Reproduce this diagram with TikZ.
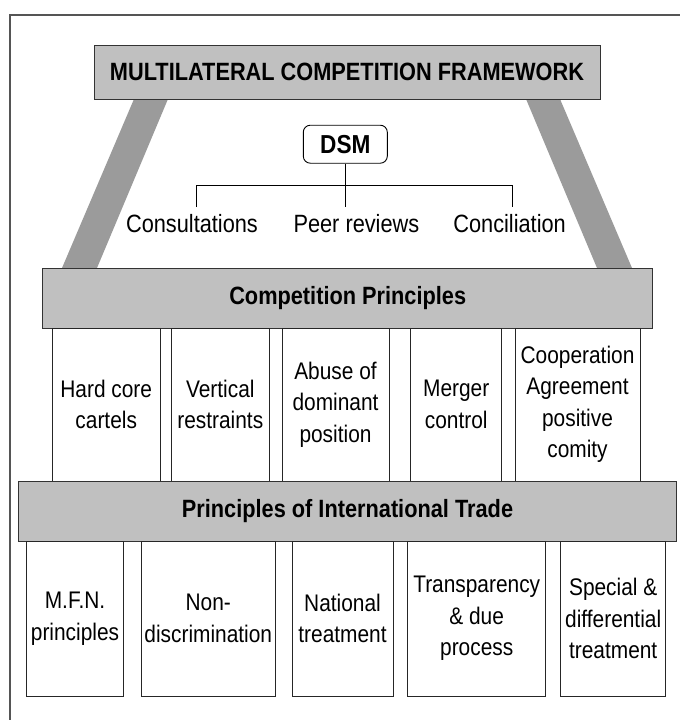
\documentclass[tikz,border=0pt]{standalone}
\usepackage{fontspec}
\setmainfont{Liberation Sans}[FakeStretch=0.87]
\definecolor{boxgray}{RGB}{192,192,192}
\definecolor{pillargray}{RGB}{155,155,155}
\definecolor{framegray}{RGB}{85,85,85}
\tikzstyle{bar}=[draw=black!80, fill=boxgray, line width=1pt, inner sep=0pt, font=\fontsize{25}{30}\selectfont\bfseries]
\tikzstyle{cell}=[draw=black!85, fill=white, line width=0.9pt, inner sep=0pt, align=center, font=\fontsize{24}{31.5}\selectfont]
\tikzstyle{dsmbox}=[draw, rectangle, rounded corners=7pt, line width=0.9pt, inner sep=0pt, minimum width=84pt, minimum height=38pt, font=\fontsize{26}{30}\selectfont\bfseries]
\tikzstyle{means}=[anchor=base, inner sep=0pt, font=\fontsize{25}{30}\selectfont]

\begin{document}
\begin{tikzpicture}[x=1pt, y=-1pt, line width=0.9pt]
  \useasboundingbox (0,0) rectangle (680,720);
  \draw[framegray, line width=1.4pt] (10,720) -- (10,15) -- (680,15);

  \fill[pillargray] (134,99) -- (168,99) -- (97,268) -- (62,268) -- cycle;
  \fill[pillargray] (526,99) -- (560,99) -- (632,268) -- (597,268) -- cycle;

  \node[bar, minimum width=506pt, minimum height=54pt] (MCF) at (347,72) {MULTILATERAL COMPETITION FRAMEWORK};

  \node[dsmbox] (DSM) at (345.3,144.2) {DSM};
  \coordinate (BL) at (196,185);
  \coordinate (BR) at (512.5,185);
  \coordinate (C1) at (196,207);
  \coordinate (C2) at (345.3,207);
  \coordinate (C3) at (512.5,207);
  \draw (C1) -- (BL) -- (BR) -- (C3);
  \draw (DSM) -- (C2);
  \node[means] (cons) at (192,232) {Consultations};
  \node[means] (peer) at (356.4,232) {Peer reviews};
  \node[means] (conc) at (509.6,232) {Conciliation};

  \node[bar, minimum width=610pt, minimum height=60pt] (CP) at (347.7,298) {Competition Principles};

  \node[cell, minimum width=107.7pt, minimum height=153pt] (HC) at (106.2,404.5) {Hard core\\cartels};
  \node[cell, minimum width=97.3pt, minimum height=153pt] (VR) at (220.3,404.5) {Vertical\\restraints};
  \node[cell, minimum width=107pt, minimum height=153pt] (AD) at (335.5,404.5) {Abuse of\\dominant\\position};
  \node[cell, minimum width=91pt, minimum height=153pt] (MC) at (456.2,404.5) {Merger\\control};
  \node[cell, minimum width=125pt, minimum height=153pt] (CA) at (577.5,404.5) {Cooperation\\Agreement\\positive\\comity};

  \node[bar, minimum width=658.4pt, minimum height=60pt] (PIT) at (347.5,511) {Principles of International Trade};

  \node[cell, minimum width=96.6pt, minimum height=155pt] (MFN) at (75,618.5) {M.F.N.\\principles};
  \node[cell, minimum width=133.3pt, minimum height=155pt] (ND) at (208.3,618.5) {Non-\\discrimination};
  \node[cell, minimum width=101pt, minimum height=155pt] (NT) at (342.5,618.5) {National\\treatment};
  \node[cell, minimum width=138pt, minimum height=155pt] (TD) at (476.7,618.5) {Transparency\\\& due\\process};
  \node[cell, minimum width=105pt, minimum height=155pt] (SD) at (613.2,618.5) {Special \&\\differential\\treatment};
\end{tikzpicture}
\end{document}
